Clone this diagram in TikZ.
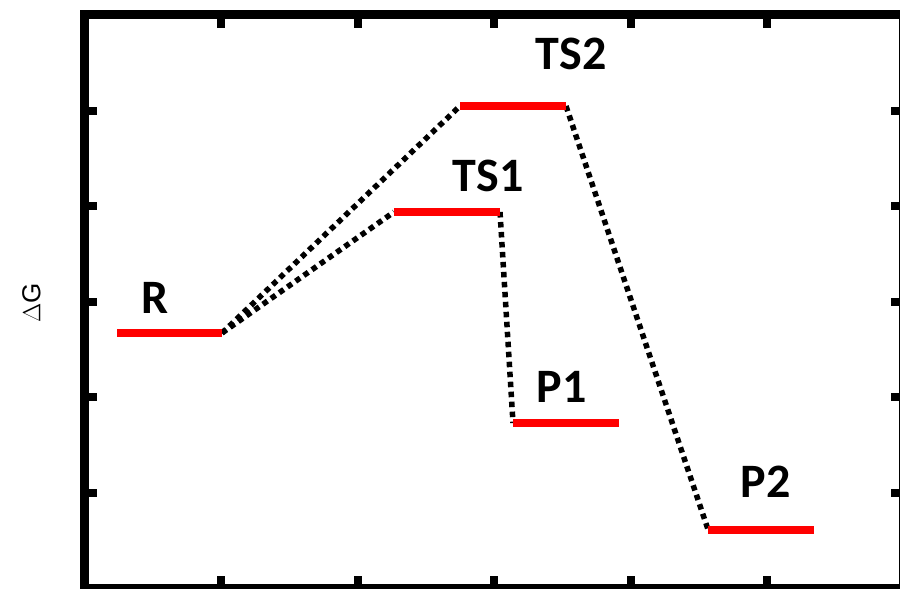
\documentclass[tikz,border=0pt]{standalone}
\usepackage{fontspec}
\setmainfont{Carlito}
\newfontfamily\arialf{Liberation Sans}
\begin{document}
\begin{tikzpicture}[x=1pt,y=-1pt,
  level/.style={draw=red,line width=8pt,line cap=butt},
  conn/.style={draw=black,line width=5.5pt,dash pattern=on 5.5pt off 4.5pt},
  frameline/.style={draw=black,line width=9pt},
  tickline/.style={draw=black,line width=8pt},
  lab/.style={inner sep=0pt,font=\fontsize{48}{48}\selectfont\bfseries}]
\useasboundingbox (0,0) rectangle (900,589);
\clip (0,0) rectangle (900,589);
% frame
\draw[frameline] (84.5,14.5) rectangle (903.5,588.6);
\foreach \k in {0,...,4}{
  \draw[tickline] (84.5,{110.5+95.6*\k}) -- (97,{110.5+95.6*\k});
  \draw[tickline] (903.5,{110.5+95.6*\k}) -- (891,{110.5+95.6*\k});
  \draw[tickline] ({221+136.5*\k},14.5) -- ({221+136.5*\k},28);
  \draw[tickline] ({221+136.5*\k},588.6) -- ({221+136.5*\k},576);
}
% level end points
\coordinate (Rl) at (117,333);   \coordinate (Rr) at (222,333);
\coordinate (T1l) at (394,212);  \coordinate (T1r) at (500,212);
\coordinate (T2l) at (460,106);  \coordinate (T2r) at (566,106);
\coordinate (P1l) at (513,423);  \coordinate (P1r) at (619,423);
\coordinate (P2l) at (708,529.5);\coordinate (P2r) at (814,529.5);
% connectors
\draw[conn] (Rr) -- (T1l);
\draw[conn] (Rr) -- (T2l);
\draw[conn] (T1r) -- (P1l);
\draw[conn] (T2r) -- (P2l);
% levels
\draw[level] (Rl) -- (Rr);
\draw[level] (T1l) -- (T1r);
\draw[level] (T2l) -- (T2r);
\draw[level] (P1l) -- (P1r);
\draw[level] (P2l) -- (P2r);
% labels
\node[lab] (labR) at (155,297.5) {R};
\node[lab] (labT1) at (488,176) {TS1};
\node[lab] (labT2) at (571,54) {TS2};
\node[lab] (labP1) at (561.5,386.5) {P1};
\node[lab] (labP2) at (765.5,481.5) {P2};
\node[inner sep=0pt,rotate=90,font=\arialf\fontsize{26}{26}\selectfont] (dG) at (31.5,302.5) {$\Delta$G};
\end{tikzpicture}
\end{document}
